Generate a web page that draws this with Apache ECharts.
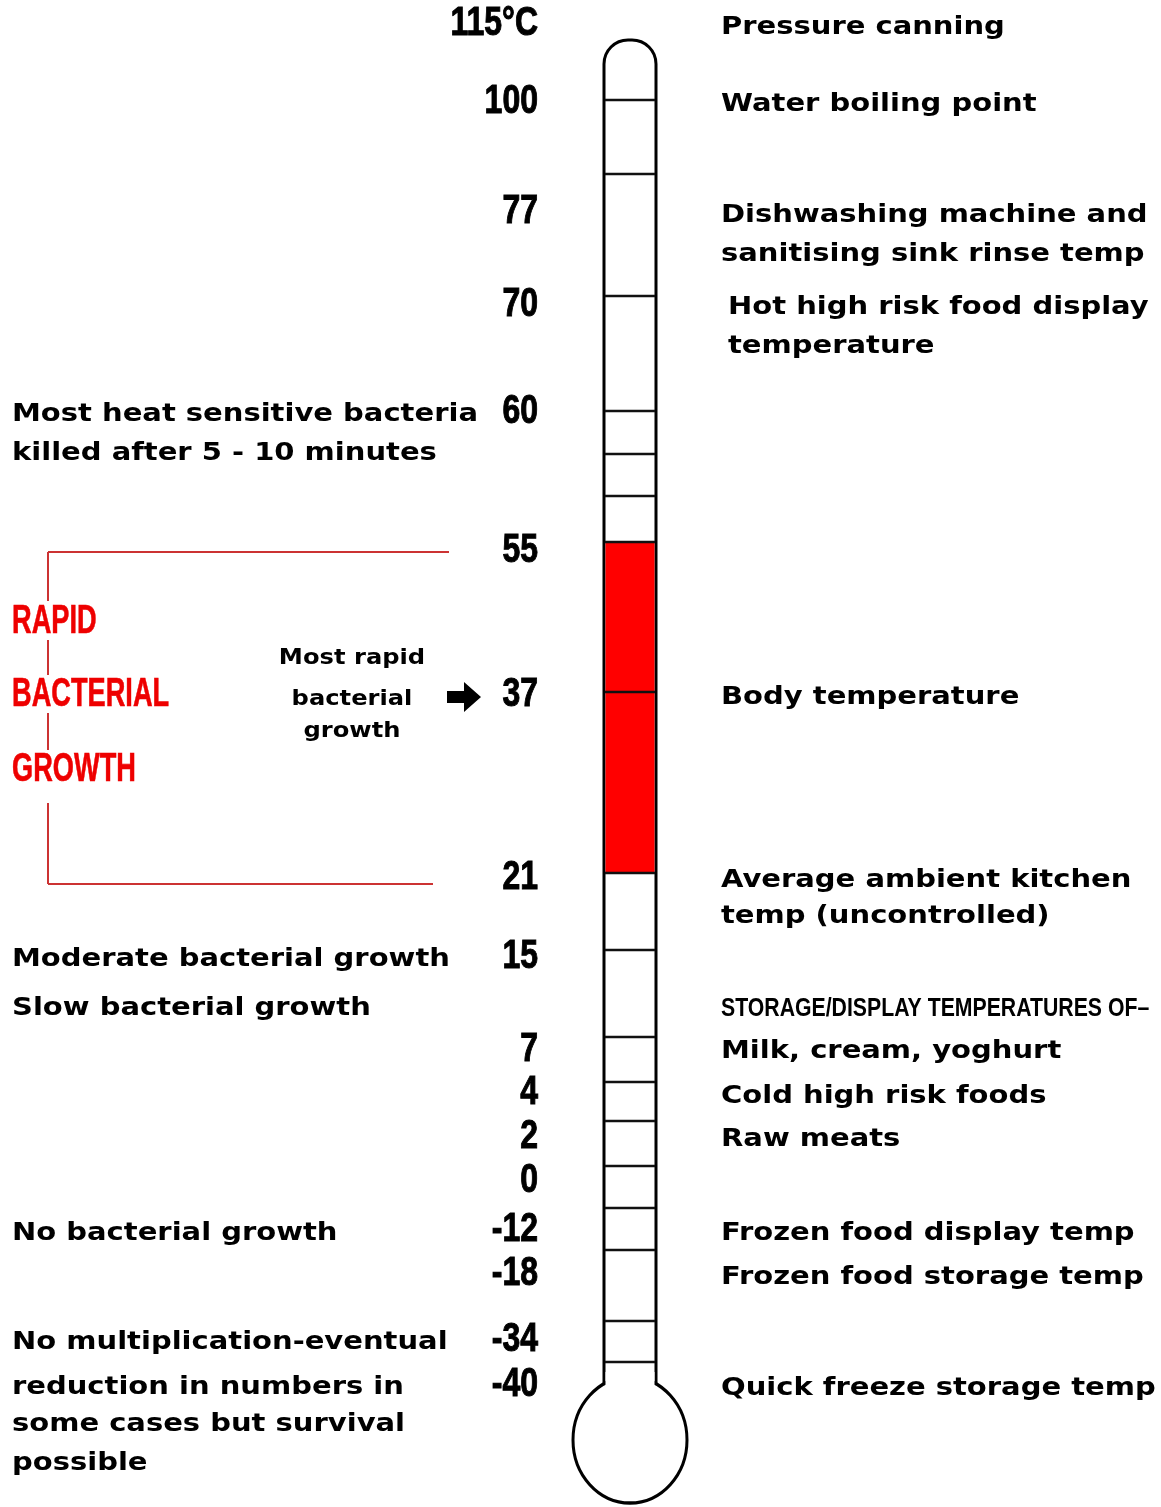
<!DOCTYPE html>
<html>
<head>
<meta charset="utf-8">
<script src="https://cdn.jsdelivr.net/npm/echarts@6/dist/echarts.min.js"></script>
<style>
  html, body { margin: 0; padding: 0; background: #fff; }
  #chart { width: 1161px; height: 1507px; }
</style>
</head>
<body>
<div id="chart"></div>
<script>
// vertical positions are places on the thermometer scale (0 = top of picture)
var temps = ['115°C', '100', '77', '70', '60', '55', '37', '21', '15', '7', '4', '2', '0', '-12', '-18', '-34', '-40'];
var tempPos = [24, 102, 212, 305, 412, 551, 695, 878, 957, 1050, 1093, 1137, 1181, 1230, 1274, 1340, 1385];

var rightNotes = ['Pressure canning', 'Water boiling point', 'Dishwashing machine and', 'sanitising sink rinse temp',
  'Body temperature', 'Average ambient kitchen', 'temp (uncontrolled)',
  'Milk, cream, yoghurt', 'Cold high risk foods', 'Raw meats', 'Frozen food display temp',
  'Frozen food storage temp', 'Quick freeze storage temp'];
var rightPos = [27, 104, 215, 254, 697, 880, 916, 1051, 1096, 1139, 1233, 1277, 1388];

var displayNotes = ['Hot high risk food display', 'temperature'];
var displayPos = [307, 346];

var storageHead = ['STORAGE/DISPLAY TEMPERATURES OF\u2013'];
var storagePos = [1009];

var leftNotes = ['Most heat sensitive bacteria', 'killed after 5 - 10 minutes', 'Moderate bacterial growth',
  'Slow bacterial growth', 'No bacterial growth', 'No multiplication-eventual', 'reduction in numbers in',
  'some cases but survival', 'possible'];
var leftPos = [414, 453, 959, 1008, 1233, 1342, 1387, 1424, 1463];

var zoneWords = ['RAPID', 'BACTERIAL', 'GROWTH'];
var zoneWordPos = [622, 695, 770];

var rapidNote = ['Most rapid', 'bacterial', 'growth'];
var rapidNotePos = [658, 699, 731];

var tickPos = [100, 174, 296, 411, 454, 496, 542, 692, 873, 950, 1037, 1082, 1121, 1166, 1208, 1250, 1321, 1362];
var dangerZone = [542, 873];   // 21..55 °C
var arrowPos = 697;             // points at 37

var chart = echarts.init(document.getElementById('chart'));

var wideFont = 'DejaVu Sans';
var blockFont = 'Liberation Sans';

function textSeries(xAt, labels, pos, o) {
  return {
    type: 'custom',
    silent: true,
    clip: false,
    z: 5,
    data: labels.map(function (t, i) { return [xAt, pos[i]]; }),
    renderItem: function (params, api) {
      var p = api.coord([api.value(0), api.value(1)]);
      return {
        type: 'text',
        x: p[0],
        y: p[1],
        scaleX: o.scaleX || 1,
        style: {
          x: 0,
          y: 0,
          text: labels[params.dataIndex],
          fill: o.color || '#000',
          fontFamily: o.font,
          fontWeight: 'bold',
          fontSize: o.size,
          align: o.align,
          verticalAlign: 'middle',
          stroke: o.stroke ? (o.color || '#000') : null,
          lineWidth: o.stroke || 0
        }
      };
    }
  };
}

var option = {
  animation: false,
  backgroundColor: '#fff',
  grid: { left: 0, right: 0, top: 0, bottom: 0 },
  xAxis: { type: 'value', min: 0, max: 1161, show: false },
  yAxis: { type: 'value', min: 0, max: 1507, inverse: true, show: false },
  series: [
    // tube + bulb outline
    {
      type: 'custom',
      silent: true,
      clip: false,
      data: [[630, 40]],
      z: 1,
      renderItem: function (params, api) {
        var tl = api.coord([604, 40]);
        var br = api.coord([656, 1386]);
        var bc = api.coord([630, 1440]);
        var c1 = api.coord([605.5, 1372]);
        var c2 = api.coord([654.5, 1391]);
        return {
          type: 'group',
          children: [
            { type: 'rect', shape: { x: tl[0], y: tl[1], width: br[0] - tl[0], height: br[1] - tl[1], r: [24, 24, 0, 0] },
              style: { fill: '#fff', stroke: '#000', lineWidth: 3 } },
            { type: 'circle', x: bc[0], y: bc[1], scaleY: 63 / 57, shape: { cx: 0, cy: 0, r: 57 },
              style: { fill: '#fff', stroke: '#000', lineWidth: 3 } },
            { type: 'rect', shape: { x: c1[0], y: c1[1], width: c2[0] - c1[0], height: c2[1] - c1[1] },
              style: { fill: '#fff' } }
          ]
        };
      }
    },
    // red danger zone
    {
      type: 'custom',
      silent: true,
      clip: false,
      data: [[630, dangerZone[0], dangerZone[1]]],
      encode: { x: 0, y: [1, 2] },
      z: 2,
      renderItem: function (params, api) {
        var a = api.coord([605.5, api.value(1)]);
        var b = api.coord([654.5, api.value(2)]);
        return { type: 'rect', shape: { x: a[0], y: a[1], width: b[0] - a[0], height: b[1] - a[1] },
          style: { fill: '#ff0000' } };
      }
    },
    // scale ticks across the tube
    {
      type: 'custom',
      silent: true,
      clip: false,
      data: tickPos.map(function (y) { return [630, y]; }),
      z: 3,
      renderItem: function (params, api) {
        var a = api.coord([605, api.value(1)]);
        var b = api.coord([655, api.value(1)]);
        return { type: 'line', shape: { x1: a[0], y1: a[1], x2: b[0], y2: b[1] },
          style: { stroke: '#111', lineWidth: 2.5 } };
      }
    },
    // red bracket round the rapid growth zone
    {
      type: 'custom',
      silent: true,
      clip: false,
      data: [[48, dangerZone[0] + 10, dangerZone[1] + 11]],
      z: 1,
      renderItem: function (params, api) {
        var top = api.value(1), bot = api.value(2);
        var segs = [
          [[48, top], [449, top]],
          [[48, bot], [433, bot]],
          [[48, top], [48, 601]],
          [[48, 640], [48, 675]],
          [[48, 713], [48, 750]],
          [[48, 803], [48, bot]]
        ];
        return {
          type: 'group',
          children: segs.map(function (s) {
            var a = api.coord(s[0]), b = api.coord(s[1]);
            return { type: 'line', shape: { x1: a[0], y1: a[1], x2: b[0], y2: b[1] },
              style: { stroke: '#cc3333', lineWidth: 2 } };
          })
        };
      }
    },
    // arrow pointing at body temperature
    {
      type: 'scatter',
      silent: true,
      symbol: 'path://M0,9 L17,9 L17,0 L34,15 L17,30 L17,21 L0,21 Z',
      symbolSize: [34, 30],
      itemStyle: { color: '#000', opacity: 1 },
      data: [[464, arrowPos]],
      z: 4
    },
    textSeries(538, temps, tempPos, { font: blockFont, size: 40, scaleX: 0.8, align: 'right', stroke: 1 }),
    textSeries(721, rightNotes, rightPos, { font: wideFont, size: 25, scaleX: 1.16, align: 'left' }),
    textSeries(728, displayNotes, displayPos, { font: wideFont, size: 25, scaleX: 1.16, align: 'left' }),
    textSeries(721, storageHead, storagePos, { font: blockFont, size: 25, scaleX: 0.85, align: 'left' }),
    textSeries(12, leftNotes, leftPos, { font: wideFont, size: 25, scaleX: 1.16, align: 'left' }),
    textSeries(12, zoneWords, zoneWordPos, { font: blockFont, size: 40, scaleX: 0.68, align: 'left', color: '#ee0000', stroke: 0.6 }),
    textSeries(352, rapidNote, rapidNotePos, { font: wideFont, size: 22, scaleX: 1.1, align: 'center' })
  ]
};

chart.setOption(option);
</script>
</body>
</html>
